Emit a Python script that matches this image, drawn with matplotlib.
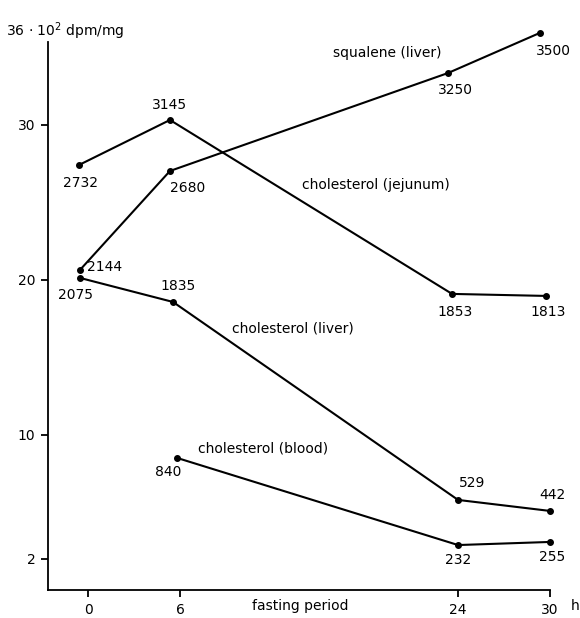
import matplotlib
matplotlib.use('Agg')
import matplotlib.pyplot as plt

plt.rcParams['font.family'] = ['DejaVu Sans']

# fasting time (h) where each point sits, and activity in 10^2 dpm/mg
jej_t = [-0.58, 5.32, 23.64, 29.74]
jej_v = [27.42, 30.32, 19.10, 18.97]
jej_lab = ['2732', '3145', '1853', '1813']

sq_t = [-0.52, 5.32, 23.38, 29.35]
sq_v = [20.65, 27.03, 33.35, 35.94]
sq_lab = ['2144', '2680', '3250', '3500']

liv_t = [-0.52, 5.52, 24.03, 30.0]
liv_v = [20.13, 18.58, 5.81, 5.10]
liv_lab = ['2075', '1835', '529', '442']

bl_t = [5.78, 24.03, 30.0]
bl_v = [8.52, 2.90, 3.10]
bl_lab = ['840', '232', '255']

xticks = [0, 6, 24, 30]
yticks = [2, 10, 20, 30]

W, H = 580, 618
fig = plt.figure(figsize=(W / 100, H / 100), dpi=100)
ax = fig.add_axes([48 / W, 1 - 590 / H, (550 - 48) / W, (590 - 42) / H])
ax.set_xlim(-2.6, 30)
ax.set_ylim(0, 35.35)

def fp(x, y):
    return x / W, 1 - y / H

series = [
    (jej_t, jej_v, jej_lab, [(1, -18), (0, 15), (3, -18), (2, -16)]),
    (sq_t, sq_v, sq_lab, [(25, 3), (18, -17), (7, -17), (13, -18)]),
    (liv_t, liv_v, liv_lab, [(-5, -17), (5, 16), (14, 17), (2, 16)]),
    (bl_t, bl_v, bl_lab, [(-9, -14), (0, -15), (2, -15)]),
]
for t, v, lab, offs in series:
    ax.plot(t, v, color='black', lw=1.5, marker='o', ms=4, clip_on=False)
    for ti, vi, s, o in zip(t, v, lab, offs):
        ax.annotate(s, (ti, vi), xytext=o, textcoords='offset pixels',
                    ha='center', va='center', fontsize=10, annotation_clip=False)

names = [('squalene (liver)', 333, 53), ('cholesterol (jejunum)', 302, 185),
         ('cholesterol (liver)', 232, 328), ('cholesterol (blood)', 198, 449)]
for s, x, y in names:
    fig.text(*fp(x, y), s, ha='left', va='center', fontsize=10)

ax.spines['top'].set_visible(False)
ax.spines['right'].set_visible(False)
for sp in ['left', 'bottom']:
    ax.spines[sp].set_linewidth(1.3)
ax.set_xticks(xticks)
ax.set_yticks(yticks)
ax.tick_params(direction='out', length=5, width=1.3, labelsize=10, pad=4)

fig.text(*fp(575, 606), 'h', ha='center', va='center', fontsize=10)
fig.text(*fp(300, 606), 'fasting period', ha='center', va='center', fontsize=10)
fig.text(*fp(6, 31), r'36 $\cdot$ 10$^2$ dpm/mg', ha='left', va='center', fontsize=10)

fig.savefig('out.png', dpi=100)
